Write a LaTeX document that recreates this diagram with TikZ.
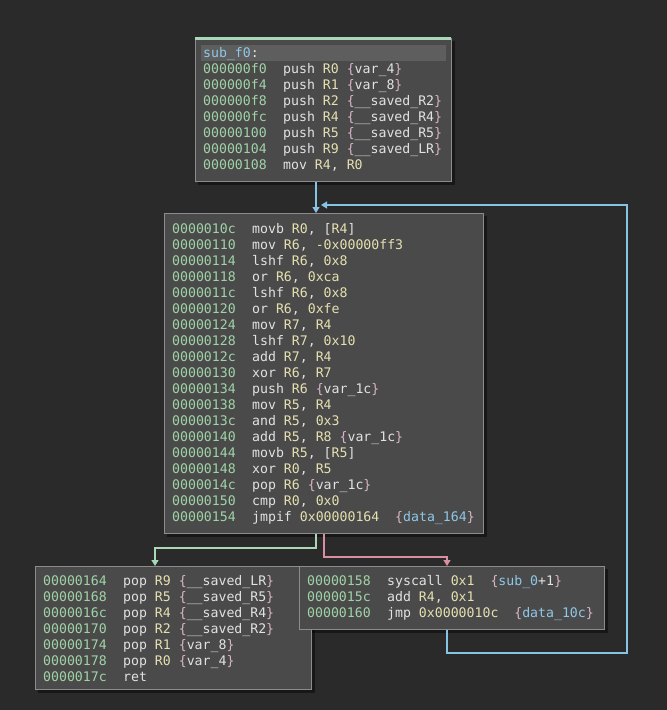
\documentclass[tikz,border=0pt]{standalone}
\usepackage{fontspec}
\setmonofont{DejaVu Sans Mono}
\usetikzlibrary{arrows.meta}
\definecolor{bg}{HTML}{2A2A2A}
\definecolor{boxf}{HTML}{4A4A4A}
\definecolor{boxd}{HTML}{8C8C8C}
\definecolor{hdr}{HTML}{5E5E5E}
\definecolor{addr}{HTML}{A0D4A8}
\definecolor{txt}{HTML}{E2E2E2}
\definecolor{num}{HTML}{E6E0B0}
\definecolor{brc}{HTML}{D8B4C6}
\definecolor{blu}{HTML}{8EC8E8}
\definecolor{eblue}{HTML}{86C4E6}
\definecolor{egreen}{HTML}{A8D8B8}
\definecolor{epink}{HTML}{D890A0}
\newcommand\rg[1]{\textcolor{num}{#1}}
\newcommand\bq[1]{\textcolor{brc}{\{}#1\textcolor{brc}{\}}}
\newcommand\dl[1]{\textcolor{blu}{#1}}
\newcommand\asmln[4]{\node[tx] at (#1,#2) {\textcolor{addr}{#3}};\node[tx] at (#1+80,#2) {#4};}
\tikzset{
 tx/.style={anchor=base west,inner sep=0pt,text=txt,font=\ttfamily\fontsize{13.2}{16}\selectfont},
 blk/.style={fill=boxf,draw=boxd,line width=1pt},
 shd/.style={fill=black,opacity=0.45},
 tip/.style={-{Triangle[length=6pt,width=7pt]}},
 ed/.style={line width=1.2pt}
}
\begin{document}
\begin{tikzpicture}[x=1pt,y=-1pt]
\fill[bg] (0,0) rectangle (667,710);
\useasboundingbox (0,0) rectangle (667,710);
% shadows
\fill[shd] (198,41) rectangle (455,185);
\fill[shd] (167,216) rectangle (487,537);
\fill[shd] (38,569) rectangle (315,693);
\fill[shd] (302,569) rectangle (608,633);
% boxes
\node[blk,minimum width=256,minimum height=143,anchor=north west,inner sep=0pt] (top) at (195,38) {};
\fill[egreen] (195,37) rectangle (451,40);
\fill[hdr] (201,45) rectangle (446,61);
\node[blk,minimum width=319,minimum height=320,anchor=north west,inner sep=0pt] (mid) at (164,213) {};
\node[blk,minimum width=276,minimum height=123,anchor=north west,inner sep=0pt] (bl) at (35,566) {};
\node[blk,minimum width=305,minimum height=63,anchor=north west,inner sep=0pt] (br) at (299,566) {};
% top text
\node[tx] at (203,57) {\textcolor{blu}{sub\_f0}:};
\asmln{203}{73}{000000f0}{push \rg{R0} \bq{var\_4}}
\asmln{203}{89}{000000f4}{push \rg{R1} \bq{var\_8}}
\asmln{203}{105}{000000f8}{push \rg{R2} \bq{\_\_saved\_R2}}
\asmln{203}{121}{000000fc}{push \rg{R4} \bq{\_\_saved\_R4}}
\asmln{203}{137}{00000100}{push \rg{R5} \bq{\_\_saved\_R5}}
\asmln{203}{153}{00000104}{push \rg{R9} \bq{\_\_saved\_LR}}
\asmln{203}{169}{00000108}{mov \rg{R4}, \rg{R0}}
% mid text
\asmln{172}{233}{0000010c}{movb \rg{R0}, [\rg{R4}]}
\asmln{172}{249}{00000110}{mov \rg{R6}, \rg{-0x00000ff3}}
\asmln{172}{265}{00000114}{lshf \rg{R6}, \rg{0x8}}
\asmln{172}{281}{00000118}{or \rg{R6}, \rg{0xca}}
\asmln{172}{297}{0000011c}{lshf \rg{R6}, \rg{0x8}}
\asmln{172}{313}{00000120}{or \rg{R6}, \rg{0xfe}}
\asmln{172}{329}{00000124}{mov \rg{R7}, \rg{R4}}
\asmln{172}{345}{00000128}{lshf \rg{R7}, \rg{0x10}}
\asmln{172}{361}{0000012c}{add \rg{R7}, \rg{R4}}
\asmln{172}{377}{00000130}{xor \rg{R6}, \rg{R7}}
\asmln{172}{393}{00000134}{push \rg{R6} \bq{var\_1c}}
\asmln{172}{409}{00000138}{mov \rg{R5}, \rg{R4}}
\asmln{172}{425}{0000013c}{and \rg{R5}, \rg{0x3}}
\asmln{172}{441}{00000140}{add \rg{R5}, \rg{R8} \bq{var\_1c}}
\asmln{172}{457}{00000144}{movb \rg{R5}, [\rg{R5}]}
\asmln{172}{473}{00000148}{xor \rg{R0}, \rg{R5}}
\asmln{172}{489}{0000014c}{pop \rg{R6} \bq{var\_1c}}
\asmln{172}{505}{00000150}{cmp \rg{R0}, \rg{0x0}}
\asmln{172}{521}{00000154}{jmpif \rg{0x00000164}~~\bq{\dl{data\_164}}}
% bottom left
\asmln{43}{585}{00000164}{pop \rg{R9} \bq{\_\_saved\_LR}}
\asmln{43}{601}{00000168}{pop \rg{R5} \bq{\_\_saved\_R5}}
\asmln{43}{617}{0000016c}{pop \rg{R4} \bq{\_\_saved\_R4}}
\asmln{43}{633}{00000170}{pop \rg{R2} \bq{\_\_saved\_R2}}
\asmln{43}{649}{00000174}{pop \rg{R1} \bq{var\_8}}
\asmln{43}{665}{00000178}{pop \rg{R0} \bq{var\_4}}
\asmln{43}{681}{0000017c}{ret}
% bottom right
\asmln{307}{585}{00000158}{syscall \rg{0x1}~~\bq{\dl{sub\_0}+1}}
\asmln{307}{601}{0000015c}{add \rg{R4}, \rg{0x1}}
\asmln{307}{617}{00000160}{jmp \rg{0x0000010c}~~\bq{\dl{data\_10c}}}
% edges
\coordinate (a1) at (316,181);
\draw[ed,eblue,tip] (top.south -| a1) -- (mid.north -| a1);
\coordinate (l1) at (447,653); \coordinate (l2) at (627,205);
\draw[ed,eblue,tip] (br.south -| l1) -- (l1) -| (l2) -- (321,205);
\coordinate (g1) at (316,548); \coordinate (g2) at (155,548);
\draw[ed,egreen,tip] (mid.south -| g1) -- (g1) -- (g2) -- (bl.north -| g2);
\coordinate (p1) at (324,557); \coordinate (p2) at (447,557);
\draw[ed,epink,tip] (mid.south -| p1) -- (p1) -- (p2) -- (br.north -| p2);
\end{tikzpicture}
\end{document}
